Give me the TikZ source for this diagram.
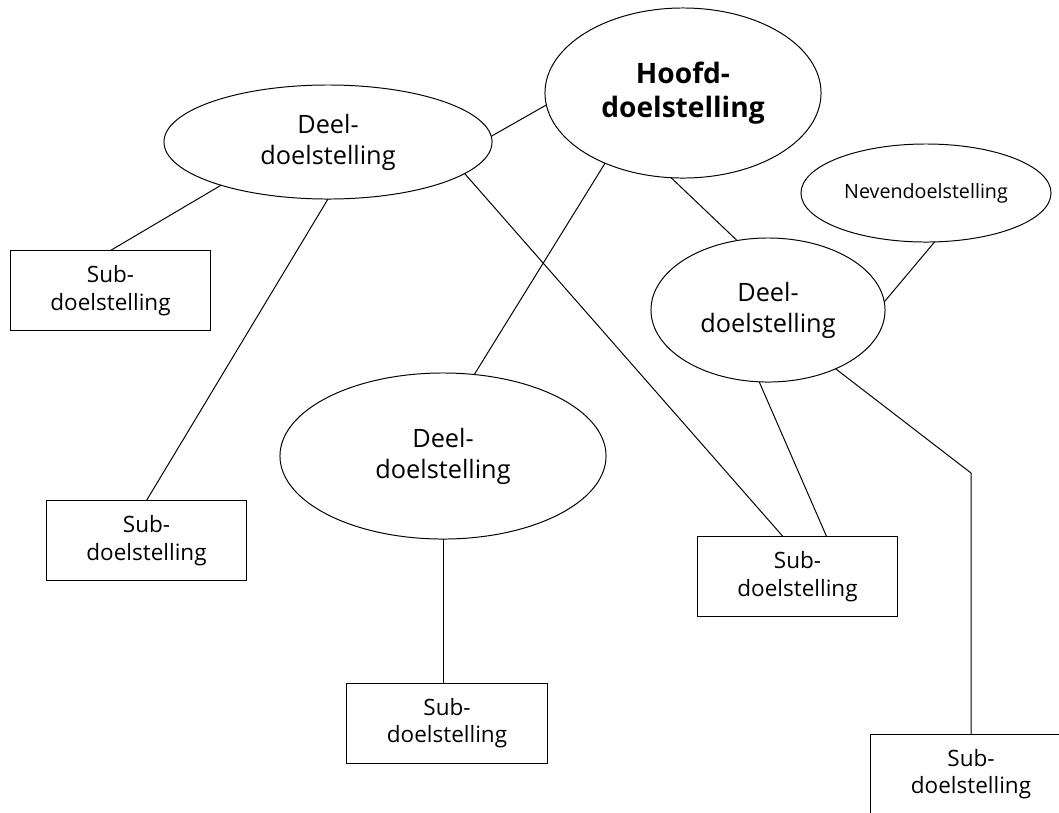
\documentclass[tikz,border=0pt]{standalone}
\usepackage{fontspec}
\setmainfont{Open Sans}
\usetikzlibrary{shapes.geometric}

\begin{document}
\begin{tikzpicture}[
  x=0.025cm, y=-0.025cm,
  line width=0.7pt,
  doel/.style={draw, ellipse, inner sep=0pt, outer sep=0pt, align=center,
               font=\fontsize{18}{22}\selectfont},
  sub/.style={draw, rectangle, inner sep=0pt, outer sep=0pt, align=center,
              minimum width=5cm, minimum height=2cm,
              font=\fontsize{16}{19.5}\selectfont}
]
\useasboundingbox (0,0) rectangle (1059,812);
\clip (0,0) rectangle (1059,812);

% doelstellingen
\node[doel, minimum width=6.9cm, minimum height=4.25cm,
      font=\fontsize{20}{24}\selectfont\bfseries] (hoofd) at (683,93) {Hoofd-\\doelstelling};
\node[doel, minimum width=8.2cm, minimum height=2.85cm] (deell) at (328,142) {Deel-\\doelstelling};
\node[doel, minimum width=5.85cm, minimum height=3.6cm] (deelr) at (768,310) {Deel-\\doelstelling};
\node[doel, minimum width=8.15cm, minimum height=4.15cm] (deelm) at (443,456) {Deel-\\doelstelling};
\node[doel, minimum width=6.25cm, minimum height=2.45cm,
      font=\fontsize{14}{17}\selectfont] (neven) at (926,193) {Nevendoelstelling};

% subdoelstellingen
\node[sub] (sub1) at (110.5,290.5) {Sub-\\doelstelling};
\node[sub] (sub2) at (146.5,540.5) {Sub-\\doelstelling};
\node[sub] (sub3) at (447,723) {Sub-\\doelstelling};
\node[sub] (sub4) at (797.5,576.5) {Sub-\\doelstelling};
\node[sub] (sub5) at (971,774) {Sub-\\doelstelling};
\coordinate (knik) at (971,473);

% verbindingen
\draw (hoofd.185.8) -- (deell.2.5);
\draw (hoofd.222.3) -- (deelm.69);
\draw (hoofd.262.6) -- (deelr.114.6);
\draw (deell.202.4) -- (sub1.north);
\draw (deell.270) -- (sub2.north);
\draw (deell.347) -- (sub4.110);
\draw (neven.280) -- (deelr.4);
\draw (deelr.263.7) -- (sub4.54);
\draw (deelr.319) -- (knik) -- (sub5.north);
\draw (deelm.south) -- (deelm.south |- sub3.north);
\end{tikzpicture}
\end{document}
